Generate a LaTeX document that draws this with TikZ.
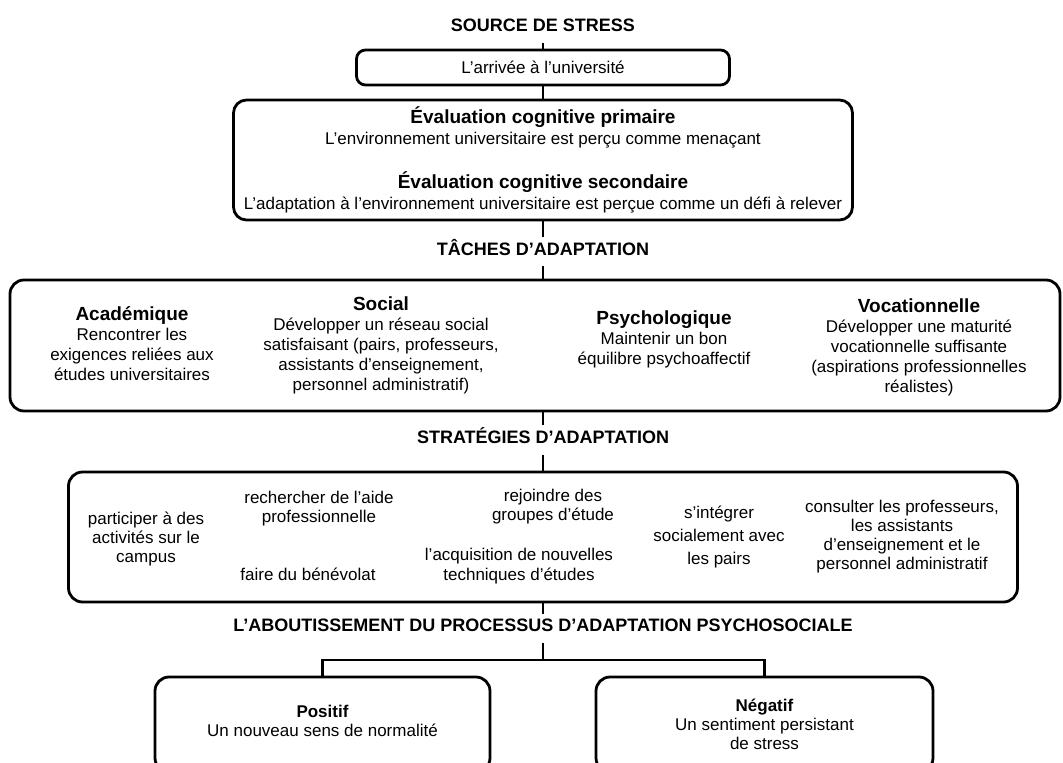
\documentclass[tikz,border=0pt]{standalone}
\usepackage{fontspec}
\setmainfont{Liberation Sans}
\newcommand{\titre}[1]{{\fontsize{19}{20}\selectfont\bfseries #1}}

\begin{document}
\begin{tikzpicture}[x=1pt,y=-1pt,
  box/.style={draw, line width=2.8pt, rounded corners=13pt, inner sep=0pt, align=center},
  head/.style={font=\fontsize{18}{20}\selectfont\bfseries, text height=13pt, text depth=6pt, inner xsep=4pt, inner ysep=5pt, anchor=base},
  txt/.style={align=center, font=\fontsize{17}{20}\selectfont, inner sep=0pt},
  link/.style={line width=2.7pt}]
  \useasboundingbox (0,0) rectangle (1063,763);
  \clip (0,0) rectangle (1063,763);
  \node[head] (source) at (543,31.7) {SOURCE DE STRESS};
  \node[box, txt, minimum width=373, minimum height=35, rounded corners=9pt] (arrivee) at (543,67.5) {L'arrivée à l'université};
  \node[box, txt, font=\fontsize{17}{21}\selectfont, minimum width=619, minimum height=120] (evaluation) at (543,160) {\titre{Évaluation cognitive primaire}\\L'environnement universitaire est perçu comme menaçant\\[23pt]\titre{Évaluation cognitive secondaire}\\L'adaptation à l'environnement universitaire est perçue comme un défi à relever};
  \node[head] (taches) at (543,255) {TÂCHES D'ADAPTATION};
  \node[box, minimum width=1050, minimum height=131, rounded corners=14pt] (adaptation) at (535,345.5) {};
  \node[txt] (academique) at (132,344) {\titre{Académique}\\Rencontrer les\\exigences reliées aux\\études universitaires};
  \node[txt] (social) at (381,345) {\titre{Social}\\Développer un réseau social\\satisfaisant (pairs, professeurs,\\assistants d'enseignement,\\personnel administratif)};
  \node[txt] (psycho) at (664,339) {\titre{Psychologique}\\Maintenir un bon\\équilibre psychoaffectif};
  \node[txt] (vocation) at (919,347) {\titre{Vocationnelle}\\Développer une maturité\\vocationnelle suffisante\\(aspirations professionnelles\\réalistes)};
  \node[head] (strat) at (543,443.3) {STRATÉGIES D'ADAPTATION};
  \node[box, minimum width=949, minimum height=130, rounded corners=14pt] (strategies) at (543,537) {};
  \node[txt, font=\fontsize{17}{19}\selectfont] (campus) at (146,539) {participer à des\\activités sur le\\campus};
  \node[txt, font=\fontsize{17}{19}\selectfont] (aide) at (319,508.5) {rechercher de l'aide\\professionnelle};
  \node[txt, font=\fontsize{17}{19}\selectfont] (benevolat) at (308,574) {faire du bénévolat};
  \node[txt, font=\fontsize{17}{19}\selectfont] (groupes) at (553,507) {rejoindre des\\groupes d'étude};
  \node[txt, font=\fontsize{17}{20}\selectfont] (techniques) at (519,566.5) {l'acquisition de nouvelles\\techniques d'études};
  \node[txt, font=\fontsize{17}{23}\selectfont] (pairs) at (719,537) {s'intégrer\\socialement avec\\les pairs};
  \node[txt, font=\fontsize{17}{19}\selectfont] (consulter) at (902,536.5) {consulter les professeurs,\\les assistants\\d'enseignement et le\\personnel administratif};
  \node[head] (aboutissement) at (543,631.7) {L'ABOUTISSEMENT DU PROCESSUS D'ADAPTATION PSYCHOSOCIALE};
  \node[box, minimum width=335, minimum height=95, rounded corners=14pt] (positif) at (322.5,724.5) {};
  \node[box, minimum width=337, minimum height=95, rounded corners=14pt] (negatif) at (764.5,724.5) {};
  \node[txt, font=\fontsize{17}{19}\selectfont] (positiftxt) at (322.5,721) {\textbf{Positif}\\Un nouveau sens de normalité};
  \node[txt, font=\fontsize{17}{19}\selectfont] (negatiftxt) at (764.5,724) {\textbf{Négatif}\\Un sentiment persistant\\de stress};
  \coordinate (fork) at (543,660);
  \draw[link] (source.south) -- (arrivee.north);
  \draw[link] (arrivee.south) -- (evaluation.north);
  \draw[link] (evaluation.south) -- (taches.north);
  \draw[link] (taches.south) -- (taches.south |- adaptation.north);
  \draw[link] (strat.north |- adaptation.south) -- (strat.north);
  \draw[link] (strat.south) -- (strategies.north);
  \draw[link] (strategies.south) -- (aboutissement.north);
  \draw[link] (aboutissement.south) -- (fork);
  \draw[link] (positif.north) |- (fork) -| (negatif.north);
\end{tikzpicture}
\end{document}
